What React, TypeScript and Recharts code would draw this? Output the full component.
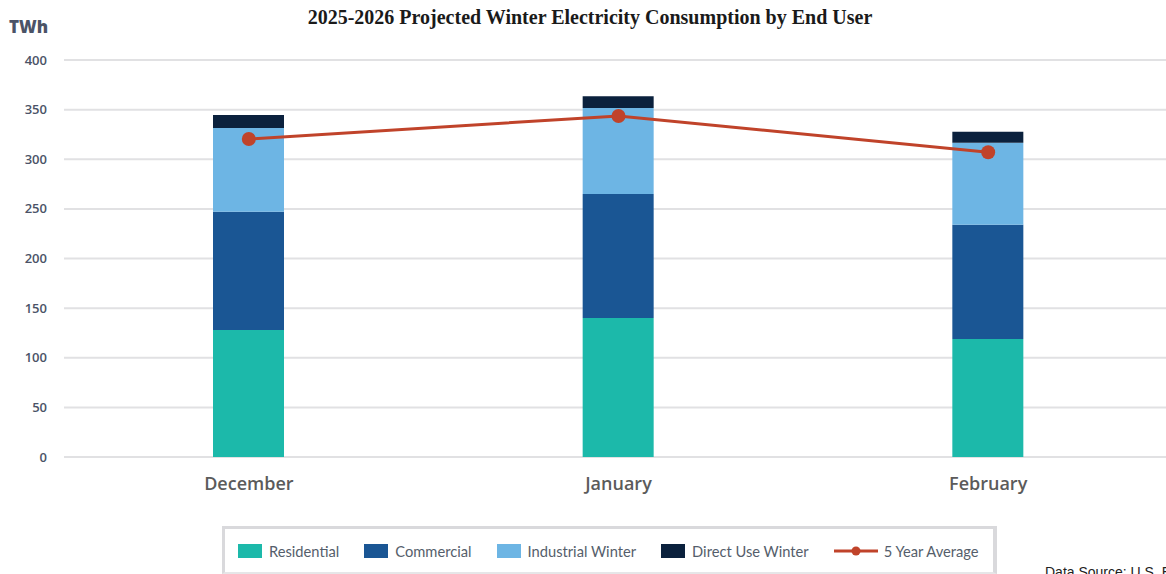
import React from 'react';
import { ComposedChart, Bar, Line, XAxis, YAxis, CartesianGrid, Legend } from 'recharts';

const months = ['December', 'January', 'February'];
const residential = [128, 140, 119];
const commercial = [119, 125, 115];
const industrialWinter = [84.5, 86.6, 82.6];
const directUseWinter = [13, 12, 11];
const fiveYearAverage = [320.4, 343.6, 307];
const yTicks = [0, 50, 100, 150, 200, 250, 300, 350, 400];

const seriesNames = ['Residential', 'Commercial', 'Industrial Winter', 'Direct Use Winter', '5 Year Average'];

const COLORS = {
  residential: '#1cb9aa',
  commercial: '#1a5694',
  industrial: '#6db5e4',
  direct: '#0b213d',
  avg: '#c0432a',
};

const legendItems = [
  { name: seriesNames[0], color: COLORS.residential, type: 'rect' },
  { name: seriesNames[1], color: COLORS.commercial, type: 'rect' },
  { name: seriesNames[2], color: COLORS.industrial, type: 'rect' },
  { name: seriesNames[3], color: COLORS.direct, type: 'rect' },
  { name: seriesNames[4], color: COLORS.avg, type: 'line' },
];

const data = months.map((m, i) => ({
  month: m,
  residential: residential[i],
  commercial: commercial[i],
  industrialWinter: industrialWinter[i],
  directUseWinter: directUseWinter[i],
  fiveYearAverage: fiveYearAverage[i],
}));

const LegendContent = () => {
  return (
    <div
      style={{
        boxSizing: 'border-box',
        width: 775,
        height: 48,
        borderTop: '3px solid #d9d9dc',
        borderLeft: '3px solid #d9d9dc',
        borderRight: '4px solid #d9d9dc',
        borderBottom: '2px solid #e6e6e8',
        display: 'flex',
        alignItems: 'center',
        paddingLeft: 13,
        paddingTop: 1,
        fontFamily: 'Lato, sans-serif',
        fontSize: 14.7,
        color: '#555e6b',
        whiteSpace: 'nowrap',
      }}
    >
      {legendItems.map((p, i) => (
        <div key={i} style={{ display: 'flex', alignItems: 'center', marginRight: 25, flexShrink: 0 }}>
          {p.type === 'line' ? (
            <svg width={44} height={14} style={{ marginRight: 6 }}>
              <line x1={0} y1={7} x2={44} y2={7} stroke={p.color} strokeWidth={3} />
              <circle cx={22} cy={7} r={4.5} fill={p.color} />
            </svg>
          ) : (
            <div style={{ width: 24, height: 14, background: p.color, marginRight: 7 }} />
          )}
          <span>{p.name}</span>
        </div>
      ))}
    </div>
  );
};

export default function App() {
  return (
    <div
      style={{
        position: 'absolute',
        left: 0,
        top: 0,
        width: 1166,
        height: 574,
        overflow: 'hidden',
        background: '#ffffff',
      }}
    >
      <div
        style={{
          position: 'absolute',
          left: 0,
          top: 6,
          width: 1180,
          textAlign: 'center',
          fontFamily: '"Liberation Serif", serif',
          fontWeight: 700,
          fontSize: 20,
          color: '#1a1a1a',
          zIndex: 2,
        }}
      >
        2025-2026 Projected Winter Electricity Consumption by End User
      </div>
      <ComposedChart
        width={1166}
        height={574}
        data={data}
        margin={{ top: 60, right: -7, left: 0, bottom: 39 }}
      >
        <CartesianGrid vertical={false} stroke="#e1e1e3" strokeWidth={2} />
        <XAxis
          dataKey="month"
          axisLine={false}
          tickLine={false}
          height={30}
          tickMargin={14}
          tick={{ fill: '#5b5b5b', fontSize: 18, fontWeight: 600, fontFamily: '"Open Sans", sans-serif' }}
        />
        <YAxis
          width={64}
          domain={[0, 400]}
          ticks={yTicks}
          axisLine={false}
          tickLine={false}
          tickMargin={11}
          tick={{ fill: '#4b5367', fontSize: 13, fontWeight: 600, fontFamily: '"Open Sans", sans-serif' }}
          label={{
            content: (lp: any) => {
              const vb = lp.viewBox || { x: 0, y: 60 };
              return (
                <text
                  x={vb.x + 9}
                  y={vb.y - 27}
                  fill="#4b5367"
                  fontSize={17}
                  fontWeight={800}
                  fontFamily='"Open Sans", sans-serif'
                >
                  TWh
                </text>
              );
            },
          }}
        />
        <Legend
          verticalAlign="bottom"
          content={<LegendContent />}
          wrapperStyle={{ left: 222, top: 526, width: 775, height: 48 }}
        />
        <Bar dataKey="residential" name={seriesNames[0]} stackId="a" fill={COLORS.residential} barSize={71} isAnimationActive={false} />
        <Bar dataKey="commercial" name={seriesNames[1]} stackId="a" fill={COLORS.commercial} barSize={71} isAnimationActive={false} />
        <Bar dataKey="industrialWinter" name={seriesNames[2]} stackId="a" fill={COLORS.industrial} barSize={71} isAnimationActive={false} />
        <Bar dataKey="directUseWinter" name={seriesNames[3]} stackId="a" fill={COLORS.direct} barSize={71} isAnimationActive={false} />
        <Line
          dataKey="fiveYearAverage"
          name={seriesNames[4]}
          type="linear"
          stroke={COLORS.avg}
          strokeWidth={3}
          dot={{ r: 7, fill: COLORS.avg, stroke: COLORS.avg, strokeWidth: 0 }}
          activeDot={false}
          legendType="line"
          isAnimationActive={false}
        />
      </ComposedChart>
      <div
        style={{
          position: 'absolute',
          left: 1045,
          top: 564,
          fontFamily: '"Liberation Sans", sans-serif',
          fontSize: 14,
          color: '#222',
          whiteSpace: 'nowrap',
        }}
      >
        Data Source: U.S. EIA
      </div>
    </div>
  );
}
